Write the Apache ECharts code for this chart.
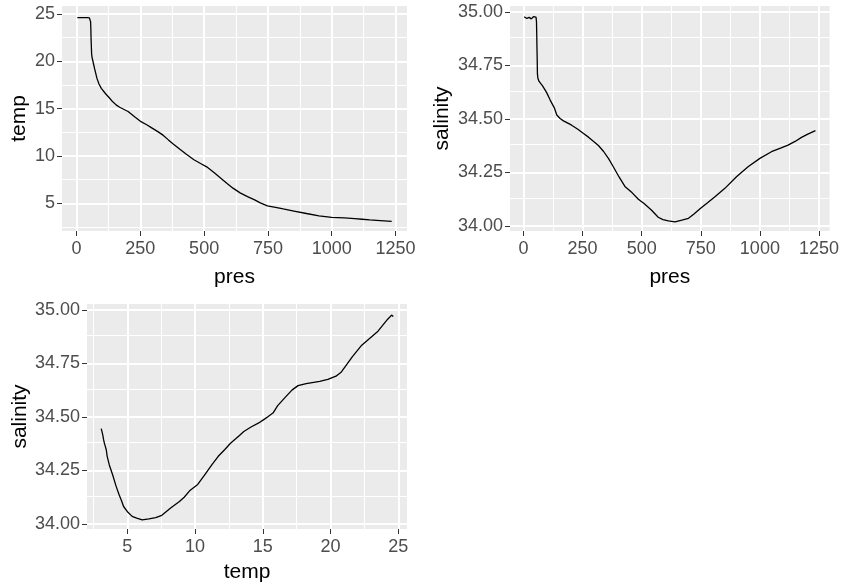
<!DOCTYPE html>
<html>
<head>
<meta charset="utf-8">
<script src="https://cdn.jsdelivr.net/npm/echarts@6/dist/echarts.min.js"></script>
<style>
  html, body { margin: 0; padding: 0; background: #ffffff; }
  #chart { width: 842px; height: 588px; }
</style>
</head>
<body>
<div id="chart"></div>
<script>
const pres = [3, 14, 24, 33, 42, 50, 53, 55, 56, 57, 58, 59, 61, 66, 71, 80, 88, 97, 113, 130,
  141, 155, 169, 202, 230, 254, 275, 293, 317, 339, 360, 380, 405, 429, 460, 486, 510, 541, 570, 590,
  613, 641, 670, 698, 720, 748, 780, 810, 852, 901, 950, 1000, 1049, 1090, 1119, 1149, 1176, 1205, 1235];
const temp = [24.62, 24.63, 24.62, 24.63, 24.62, 24.6, 24.5, 24.2, 23.5, 22.3, 21.6, 20.8, 20.4, 19.8, 19.2, 18.2, 17.6, 17.15, 16.6, 16.1,
  15.75, 15.4, 15.15, 14.7, 14.1, 13.6, 13.3, 13.0, 12.6, 12.2, 11.7, 11.25, 10.7, 10.2, 9.6, 9.2, 8.85, 8.2, 7.55, 7.1,
  6.6, 6.1, 5.7, 5.36, 5.05, 4.73, 4.57, 4.4, 4.18, 3.92, 3.67, 3.52, 3.45, 3.37, 3.31, 3.25, 3.2, 3.14, 3.08];
const salinity = [34.977, 34.969, 34.974, 34.967, 34.977, 34.977, 34.975, 34.955, 34.90, 34.835, 34.78, 34.71, 34.69, 34.675, 34.666, 34.655, 34.646, 34.625, 34.588, 34.553,
  34.518, 34.502, 34.491, 34.472, 34.452, 34.432, 34.415, 34.398, 34.376, 34.348, 34.315, 34.277, 34.228, 34.185, 34.155, 34.125, 34.105, 34.075, 34.041, 34.030,
  34.024, 34.020, 34.028, 34.036, 34.055, 34.082, 34.11, 34.137, 34.176, 34.23, 34.277, 34.316, 34.347, 34.365, 34.378, 34.395, 34.414, 34.43, 34.445];

// ---- axis breaks ----
const presTicks = [0, 250, 500, 750, 1000, 1250];
const presMinor = [125, 375, 625, 875, 1125];
const tempTicks = [5, 10, 15, 20, 25];
const tempMinor = [2.5, 7.5, 12.5, 17.5, 22.5];
const salTicks = [34.00, 34.25, 34.50, 34.75, 35.00];
const salMinor = [34.125, 34.375, 34.625, 34.875];

const FONT = "'Liberation Sans', Arial, sans-serif";

function pairs(xs, ys) { return xs.map((x, i) => [x, ys[i]]); }
const tsPairs = pairs(temp, salinity).slice().sort((a, b) => a[0] - b[0]);

function gridLines(xMaj, xMin, yMaj, yMin) {
  const d = [];
  xMin.forEach(v => d.push({ xAxis: v, lineStyle: { width: 1 } }));
  yMin.forEach(v => d.push({ yAxis: v, lineStyle: { width: 1 } }));
  xMaj.forEach(v => d.push({ xAxis: v, lineStyle: { width: 2 } }));
  yMaj.forEach(v => d.push({ yAxis: v, lineStyle: { width: 2 } }));
  return {
    silent: true, z: 1, symbol: ['none', 'none'], animation: false,
    label: { show: false }, emphasis: { disabled: true },
    lineStyle: { color: '#FFFFFF', type: 'solid', opacity: 1 },
    data: d
  };
}

function xAxis(idx, name, min, max, ticks, gap, fmt) {
  return {
    type: 'value', gridIndex: idx, min: min, max: max,
    axisLine: { show: false, onZero: false },
    axisTick: { show: true, length: 5, customValues: ticks, lineStyle: { color: '#333333', width: 1 } },
    axisLabel: { customValues: ticks, margin: 9, fontSize: 18, color: '#4D4D4D', fontFamily: FONT,
      formatter: fmt || (v => String(v)) },
    splitLine: { show: false }, minorSplitLine: { show: false },
    name: name, nameLocation: 'middle', nameGap: gap,
    nameTextStyle: { fontSize: 21, color: '#000000', fontFamily: FONT }
  };
}
function yAxis(idx, name, min, max, ticks, gap, fmt) {
  return {
    type: 'value', gridIndex: idx, min: min, max: max,
    axisLine: { show: false, onZero: false },
    axisTick: { show: true, length: 5, customValues: ticks, lineStyle: { color: '#333333', width: 1 } },
    axisLabel: { customValues: ticks, margin: 7, fontSize: 18, color: '#4D4D4D', fontFamily: FONT,
      formatter: fmt || (v => String(v)) },
    splitLine: { show: false }, minorSplitLine: { show: false },
    name: name, nameLocation: 'middle', nameGap: gap, nameRotate: 90,
    nameTextStyle: { fontSize: 21, color: '#000000', fontFamily: FONT }
  };
}
const sal2 = v => v.toFixed(2);

const chart = echarts.init(document.getElementById('chart'), null, { renderer: 'canvas' });
chart.setOption({
  animation: false,
  backgroundColor: '#FFFFFF',
  grid: [
    { left: 62, top: 6, width: 345, height: 225, show: true, backgroundColor: '#EBEBEB', borderWidth: 0 },
    { left: 510, top: 6, width: 320, height: 225, show: true, backgroundColor: '#EBEBEB', borderWidth: 0 },
    { left: 87, top: 304, width: 320, height: 225, show: true, backgroundColor: '#EBEBEB', borderWidth: 0 }
  ],
  xAxis: [
    xAxis(0, 'pres', -57, 1295, presTicks, 36),
    xAxis(1, 'pres', -57, 1295, presTicks, 36),
    xAxis(2, 'temp', 2.03, 25.64, tempTicks, 33)
  ],
  yAxis: [
    yAxis(0, 'temp', 2.07, 25.85, tempTicks, 32),
    yAxis(1, 'salinity', 33.977, 35.027, salTicks, 57, sal2),
    yAxis(2, 'salinity', 33.977, 35.027, salTicks, 54, sal2)
  ],
  series: [
    { type: 'line', xAxisIndex: 0, yAxisIndex: 0, data: pairs(pres, temp), showSymbol: false, silent: true, z: 2,
      lineStyle: { color: '#000000', width: 1.3 }, markLine: gridLines(presTicks, presMinor, tempTicks, tempMinor) },
    { type: 'line', xAxisIndex: 1, yAxisIndex: 1, data: pairs(pres, salinity), showSymbol: false, silent: true, z: 2,
      lineStyle: { color: '#000000', width: 1.3 }, markLine: gridLines(presTicks, presMinor, salTicks, salMinor) },
    { type: 'line', xAxisIndex: 2, yAxisIndex: 2, data: tsPairs, showSymbol: false, silent: true, z: 2,
      lineStyle: { color: '#000000', width: 1.3 }, markLine: gridLines(tempTicks, tempMinor, salTicks, salMinor) }
  ]
});
</script>
</body>
</html>
